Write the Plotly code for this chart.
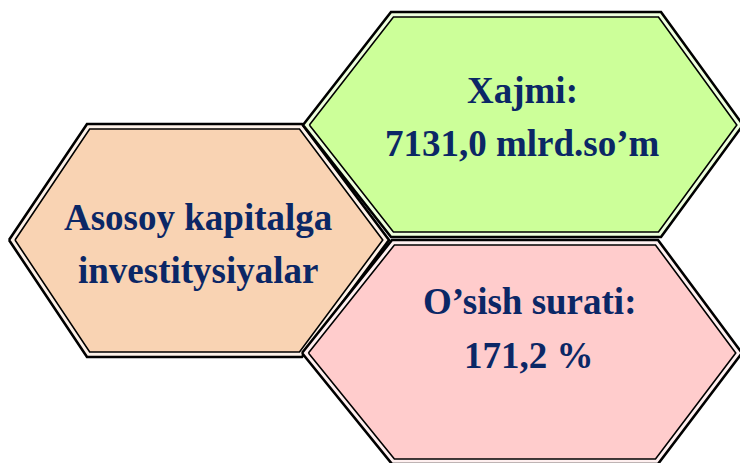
import plotly.graph_objects as go
import numpy as np

# ---- data (texts) ----
titles = ["Asosoy kapitalga", "Xajmi:", "O’sish surati:"]
subtitles = ["investitysiyalar", "7131,0 mlrd.so’m", "171,2 %"]
fills = ["#F9D3B3", "#CCFF99", "#FFCCCC"]
gap_fills = ["#FDF1E8", "#EEFFDD", "#FFF0F0"]

# hexagon layout: (x_left, x_topleft, x_topright, x_right, y_top, y_mid, y_bottom)
hex_geom = [
    (9, 87, 302, 389, 124, 240, 357),
    (303, 391, 661, 743, 12, 125, 237),
    (302, 392, 658, 742, 240, 353, 464),
]
text_pos = [(198, 217, 270), (522, 90, 143), (529, 301, 355)]

TEXT_COLOR = "#0B2766"
FONT = "Liberation Serif, Times New Roman, serif"


def hex_pts(g):
    xl, xtl, xtr, xr, yt, ym, yb = g
    return [(xl, ym), (xtl, yt), (xtr, yt), (xr, ym), (xtr, yb), (xtl, yb)]


def inset(pts, d):
    n = len(pts)
    lines = []
    for i in range(n):
        p = np.array(pts[i], float)
        q = np.array(pts[(i + 1) % n], float)
        v = q - p
        v /= np.linalg.norm(v)
        nrm = np.array([-v[1], v[0]])
        lines.append((p + nrm * d, v))
    out = []
    for i in range(n):
        p1, v1 = lines[i - 1]
        p2, v2 = lines[i]
        A = np.array([v1, -v2]).T
        t = np.linalg.solve(A, p2 - p1)
        out.append(tuple(p1 + v1 * t[0]))
    return out


fig = go.Figure()
for g, f, gf in zip(hex_geom, fills, gap_fills):
    outer = hex_pts(g)
    inner = inset(outer, 5)
    for pts, fc, lw in ((outer, gf, 2.6), (inner, f, 1.6)):
        xs = [p[0] for p in pts] + [pts[0][0]]
        ys = [p[1] for p in pts] + [pts[0][1]]
        fig.add_trace(go.Scatter(x=xs, y=ys, mode="lines", fill="toself",
                                 fillcolor=fc, line=dict(color="black", width=lw),
                                 hoverinfo="skip", showlegend=False, cliponaxis=True))

for (cx, y1, y2), t1, t2 in zip(text_pos, titles, subtitles):
    for y, t in ((y1, t1), (y2, t2)):
        fig.add_annotation(x=cx, y=y, text=f"<b>{t}</b>", showarrow=False,
                           xanchor="center", yanchor="middle",
                           font=dict(family=FONT, size=37, color=TEXT_COLOR))

fig.update_layout(
    width=740, height=463,
    margin=dict(l=0, r=0, t=0, b=0),
    paper_bgcolor="white", plot_bgcolor="white",
    xaxis=dict(range=[0, 740], visible=False, fixedrange=True),
    yaxis=dict(range=[463, 0], visible=False, fixedrange=True),
    showlegend=False,
)
fig.write_html("out.html", config={"displayModeBar": False},
               post_script="document.body.style.margin='0';document.body.style.overflow='hidden';")
